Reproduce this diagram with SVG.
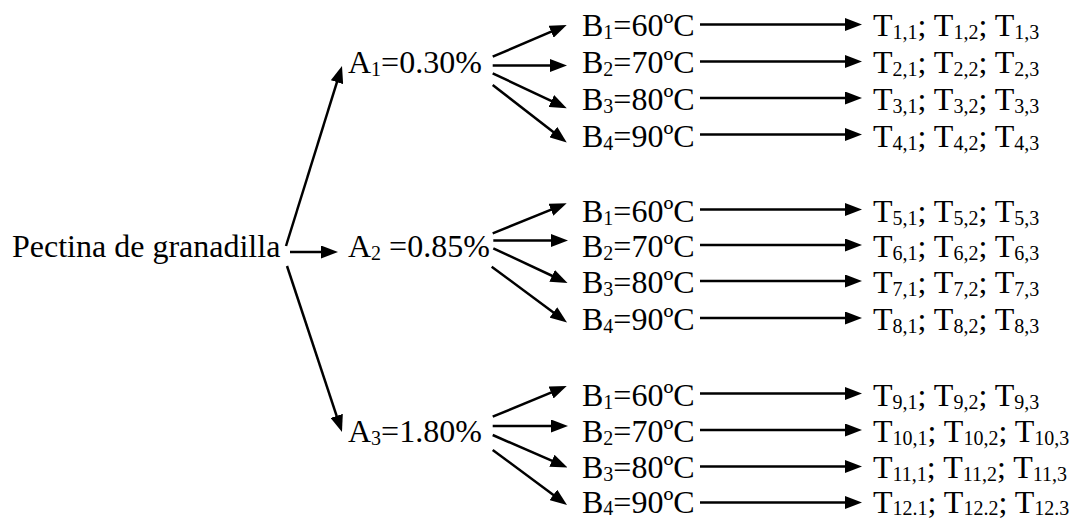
<svg xmlns="http://www.w3.org/2000/svg" width="1079" height="518" viewBox="0 0 1079 518">
  <style>
    text { font-family: 'Liberation Serif', 'Times New Roman', 'DejaVu Serif', serif; font-size: 32px; fill: #000; }
    .s { font-size: 20px; }
    .conn path { fill: none; stroke: #000; stroke-width: 2.5; marker-end: url(#ah); }
  </style>
  <defs>
    <marker id="ah" markerUnits="userSpaceOnUse" viewBox="0 0 17 13" markerWidth="17" markerHeight="13" refX="11" refY="6.5" orient="auto">
      <path d="M0,0 L17,6.5 L0,13 z" fill="#000"/>
    </marker>
  </defs>
  <rect width="1079" height="518" fill="#fff"/>

  <!-- connectors -->
  <g class="conn" id="connectors">
    <!-- root to A levels -->
    <path d="M286,246 L340.2,71.7"/>
    <path d="M290,252 L332,252"/>
    <path d="M287,266 L340.1,426.3"/>
    <!-- A1 to B -->
    <path d="M492.7,56.7 L561.2,27.4"/>
    <path d="M492.7,65.5 L561,65.5"/>
    <path d="M492.7,73.3 L561.3,105.7"/>
    <path d="M492.7,85 L562,138.8"/>
    <!-- A2 to B -->
    <path d="M492.7,233.3 L561.1,205.6"/>
    <path d="M493.3,240.5 L562,240.5"/>
    <path d="M493.3,248.3 L562.1,280.5"/>
    <path d="M491.7,266.7 L562.2,318.9"/>
    <!-- A3 to B -->
    <path d="M492.7,416.7 L561.2,388.3"/>
    <path d="M492.7,426 L562,426"/>
    <path d="M492.7,435 L562,465.1"/>
    <path d="M492.7,450 L562.2,501.4"/>
    <!-- B to T -->
    <path d="M700,24.5 L856,24.5"/>
    <path d="M700,61.5 L856,61.5"/>
    <path d="M700,98 L856,98"/>
    <path d="M700,134.5 L856,134.5"/>
    <path d="M700,209.5 L856,209.5"/>
    <path d="M700,245 L856,245"/>
    <path d="M700,281 L856,281"/>
    <path d="M700,318 L856,318"/>
    <path d="M700,393.5 L856,393.5"/>
    <path d="M700,430 L856,430"/>
    <path d="M700,466.5 L856,466.5"/>
    <path d="M700,502.5 L856,502.5"/>
  </g>

  <!-- root -->
  <g id="root"><text x="12" y="257">Pectina de granadilla</text></g>

  <!-- factor A -->
  <g id="a1"><text x="348" y="73.3">A<tspan class="s" dy="3">1</tspan><tspan dy="-3">=0.30%</tspan></text></g>
  <g id="a2"><text x="348" y="256.7">A<tspan class="s" dy="3">2</tspan><tspan dy="-3"> =0.85%</tspan></text></g>
  <g id="a3"><text x="348" y="441.7">A<tspan class="s" dy="3">3</tspan><tspan dy="-3">=1.80%</tspan></text></g>

  <!-- factor B, group 1 -->
  <g id="b1-1"><text x="582" y="36">B<tspan class="s" dy="3">1</tspan><tspan dy="-3">=60ºC</tspan></text></g>
  <g id="b1-2"><text x="582" y="73.2">B<tspan class="s" dy="3">2</tspan><tspan dy="-3">=70ºC</tspan></text></g>
  <g id="b1-3"><text x="582" y="110">B<tspan class="s" dy="3">3</tspan><tspan dy="-3">=80ºC</tspan></text></g>
  <g id="b1-4"><text x="582" y="146.6">B<tspan class="s" dy="3">4</tspan><tspan dy="-3">=90ºC</tspan></text></g>
  <!-- factor B, group 2 -->
  <g id="b2-1"><text x="582" y="221.5">B<tspan class="s" dy="3">1</tspan><tspan dy="-3">=60ºC</tspan></text></g>
  <g id="b2-2"><text x="582" y="256.7">B<tspan class="s" dy="3">2</tspan><tspan dy="-3">=70ºC</tspan></text></g>
  <g id="b2-3"><text x="582" y="293.3">B<tspan class="s" dy="3">3</tspan><tspan dy="-3">=80ºC</tspan></text></g>
  <g id="b2-4"><text x="582" y="330">B<tspan class="s" dy="3">4</tspan><tspan dy="-3">=90ºC</tspan></text></g>
  <!-- factor B, group 3 -->
  <g id="b3-1"><text x="582" y="405.5">B<tspan class="s" dy="3">1</tspan><tspan dy="-3">=60ºC</tspan></text></g>
  <g id="b3-2"><text x="582" y="442">B<tspan class="s" dy="3">2</tspan><tspan dy="-3">=70ºC</tspan></text></g>
  <g id="b3-3"><text x="582" y="478.3">B<tspan class="s" dy="3">3</tspan><tspan dy="-3">=80ºC</tspan></text></g>
  <g id="b3-4"><text x="582" y="512.5">B<tspan class="s" dy="2">4</tspan><tspan dy="-2">=90ºC</tspan></text></g>

  <!-- treatments -->
  <g id="t1"><text x="873" y="36">T<tspan class="s" dy="3">1,1</tspan><tspan dy="-3">; T</tspan><tspan class="s" dy="3">1,2</tspan><tspan dy="-3">; T</tspan><tspan class="s" dy="3">1,3</tspan></text></g>
  <g id="t2"><text x="873" y="73.2">T<tspan class="s" dy="3">2,1</tspan><tspan dy="-3">; T</tspan><tspan class="s" dy="3">2,2</tspan><tspan dy="-3">; T</tspan><tspan class="s" dy="3">2,3</tspan></text></g>
  <g id="t3"><text x="873" y="110">T<tspan class="s" dy="3">3,1</tspan><tspan dy="-3">; T</tspan><tspan class="s" dy="3">3,2</tspan><tspan dy="-3">; T</tspan><tspan class="s" dy="3">3,3</tspan></text></g>
  <g id="t4"><text x="873" y="146.6">T<tspan class="s" dy="3">4,1</tspan><tspan dy="-3">; T</tspan><tspan class="s" dy="3">4,2</tspan><tspan dy="-3">; T</tspan><tspan class="s" dy="3">4,3</tspan></text></g>
  <g id="t5"><text x="873" y="221.5">T<tspan class="s" dy="3">5,1</tspan><tspan dy="-3">; T</tspan><tspan class="s" dy="3">5,2</tspan><tspan dy="-3">; T</tspan><tspan class="s" dy="3">5,3</tspan></text></g>
  <g id="t6"><text x="873" y="256.7">T<tspan class="s" dy="3">6,1</tspan><tspan dy="-3">; T</tspan><tspan class="s" dy="3">6,2</tspan><tspan dy="-3">; T</tspan><tspan class="s" dy="3">6,3</tspan></text></g>
  <g id="t7"><text x="873" y="293.3">T<tspan class="s" dy="3">7,1</tspan><tspan dy="-3">; T</tspan><tspan class="s" dy="3">7,2</tspan><tspan dy="-3">; T</tspan><tspan class="s" dy="3">7,3</tspan></text></g>
  <g id="t8"><text x="873" y="330">T<tspan class="s" dy="3">8,1</tspan><tspan dy="-3">; T</tspan><tspan class="s" dy="3">8,2</tspan><tspan dy="-3">; T</tspan><tspan class="s" dy="3">8,3</tspan></text></g>
  <g id="t9"><text x="873" y="405.5">T<tspan class="s" dy="3">9,1</tspan><tspan dy="-3">; T</tspan><tspan class="s" dy="3">9,2</tspan><tspan dy="-3">; T</tspan><tspan class="s" dy="3">9,3</tspan></text></g>
  <g id="t10"><text x="873" y="442">T<tspan class="s" dy="3">10,1</tspan><tspan dy="-3">; T</tspan><tspan class="s" dy="3">10,2</tspan><tspan dy="-3">; T</tspan><tspan class="s" dy="3">10,3</tspan></text></g>
  <g id="t11"><text x="873" y="478.3">T<tspan class="s" dy="3">11,1</tspan><tspan dy="-3">; T</tspan><tspan class="s" dy="3">11,2</tspan><tspan dy="-3">; T</tspan><tspan class="s" dy="3">11,3</tspan></text></g>
  <g id="t12"><text x="873" y="512.5">T<tspan class="s" dy="2">12.1</tspan><tspan dy="-2">; T</tspan><tspan class="s" dy="2">12.2</tspan><tspan dy="-2">; T</tspan><tspan class="s" dy="2">12.3</tspan></text></g>
</svg>
